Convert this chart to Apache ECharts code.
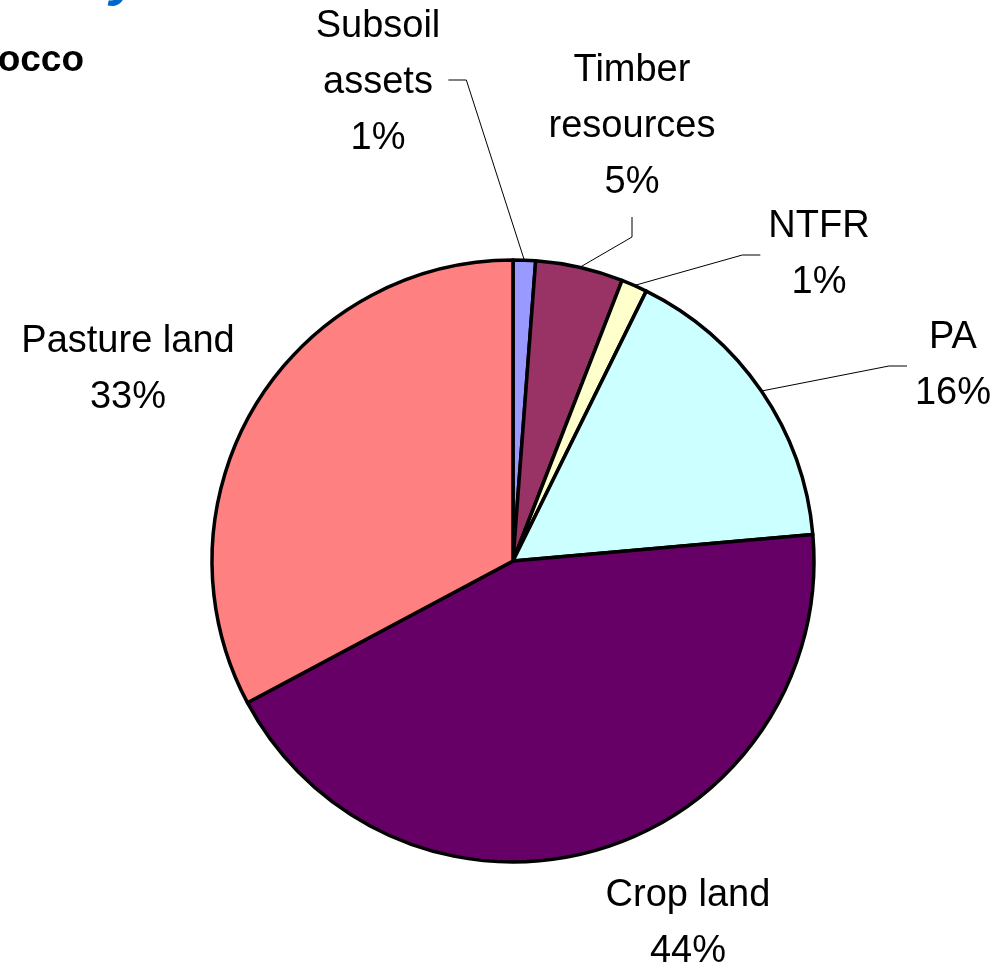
<!DOCTYPE html>
<html>
<head>
<meta charset="utf-8">
<script src="https://cdn.jsdelivr.net/npm/echarts@6/dist/echarts.min.js"></script>
<style>
  html, body { margin: 0; padding: 0; background: #fff; }
  #main { width: 1000px; height: 968px; }
</style>
</head>
<body>
<div id="main"></div>
<script>
  // slices, clockwise from 12 o'clock
  var names = ['Subsoil assets', 'Timber resources', 'NTFR', 'PA', 'Crop land', 'Pasture land'];
  var values = [1.2, 4.7, 1.4, 16.3, 43.6, 32.8];
  var colors = ['#9999ff', '#993366', '#ffffcc', '#ccffff', '#660066', '#ff8080'];
  // where each label sits (centre of the text block) and which side its leader leaves from
  var labelPos = [[378, 83], [632, 127], [819, 255], [953, 366], [688, 924], [128, 370]];
  var lineSide = ['right', 'bottom', 'left', 'left', null, null];

  var chartDom = document.getElementById('main');
  var myChart = echarts.init(chartDom);

  var data = names.map(function (n, i) {
    return {
      name: n,
      value: values[i],
      itemStyle: { color: colors[i] },
      labelLine: { show: lineSide[i] != null }
    };
  });

  var option = {
    animation: false,
    graphic: [
      {
        type: 'text',
        x: 84,
        y: 79,
        style: {
          text: 'Morocco',
          font: 'bold 37px "Liberation Sans", Arial, sans-serif',
          fill: '#000',
          textAlign: 'right',
          textVerticalAlign: 'bottom'
        }
      },
      {
        type: 'text',
        x: 110,
        y: 7,
        style: {
          text: 'y',
          font: 'italic bold 56px "Liberation Sans", Arial, sans-serif',
          fill: '#0066cc',
          textAlign: 'left',
          textVerticalAlign: 'bottom'
        }
      }
    ],
    series: [
      {
        type: 'pie',
        center: [513, 561],
        radius: 301,
        startAngle: 90,
        clockwise: true,
        data: data,
        itemStyle: { borderColor: '#000', borderWidth: 3.5 },
        label: {
          show: true,
          position: 'outside',
          color: '#000',
          fontFamily: '"Liberation Sans", Arial, sans-serif',
          fontSize: 38,
          lineHeight: 56,
          align: 'center',
          overflow: 'none',
          formatter: function (p) {
            var n = p.dataIndex < 2 ? p.name.replace(' ', '\n') : p.name;
            return n + '\n' + Math.round(p.percent) + '%';
          }
        },
        labelLine: {
          show: true,
          length: 20,
          length2: 20,
          lineStyle: { color: '#000', width: 1 }
        },
        labelLayout: function (params) {
          var i = params.dataIndex;
          var pos = labelPos[i];
          var out = { x: pos[0], y: pos[1], align: 'center', verticalAlign: 'middle' };
          var side = lineSide[i];
          if (side && params.labelLinePoints) {
            var w = params.labelRect.width, h = params.labelRect.height;
            var p0 = params.labelLinePoints[0];
            var end, mid;
            if (side === 'right') {
              end = [pos[0] + w / 2 + 8, pos[1] - 3];
              mid = [end[0] + 18, end[1]];
            } else if (side === 'left') {
              end = [pos[0] - w / 2 - 8, pos[1]];
              mid = [end[0] - 18, end[1]];
            } else {
              end = [pos[0], pos[1] + h / 2 + 6];
              mid = [end[0], end[1] + 20];
            }
            out.labelLinePoints = [p0, mid, end];
          }
          return out;
        },
        emphasis: { disabled: true }
      }
    ]
  };

  myChart.setOption(option);
</script>
</body>
</html>
